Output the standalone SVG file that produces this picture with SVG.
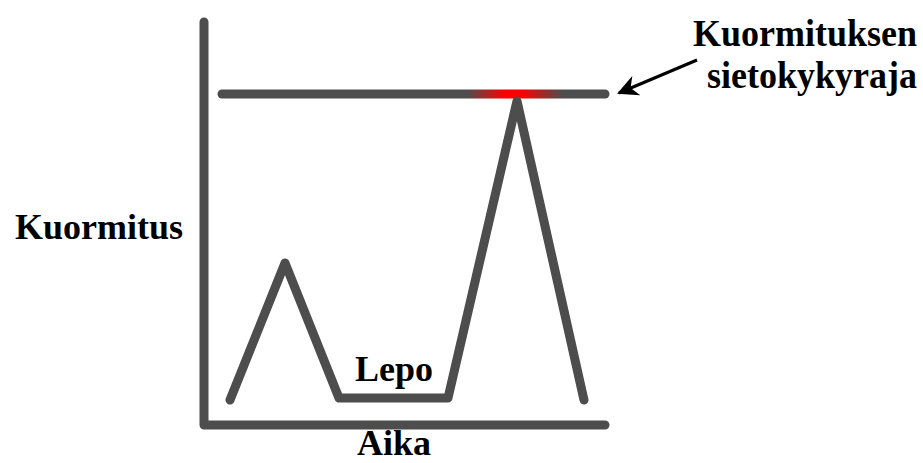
<svg xmlns="http://www.w3.org/2000/svg" width="923" height="463" viewBox="0 0 923 463">
<defs>
<style>
.ln{fill:none;stroke:#4d4d4d;stroke-width:9;stroke-linecap:round;stroke-linejoin:round}
.t{font-family:"Liberation Serif","Times New Roman",serif;font-weight:bold;font-size:36px;fill:#000}
</style>
<linearGradient id="glow" gradientUnits="userSpaceOnUse" x1="222" y1="0" x2="605" y2="0">
<stop offset="0" stop-color="#4d4d4d"/>
<stop offset="0.64" stop-color="#4d4d4d"/>
<stop offset="0.74" stop-color="#ff0000"/>
<stop offset="0.78" stop-color="#ff0000"/>
<stop offset="0.89" stop-color="#4d4d4d"/>
<stop offset="1" stop-color="#4d4d4d"/>
</linearGradient>
<marker id="ah" viewBox="0 0 10 10" refX="9" refY="5" markerWidth="7" markerHeight="7" orient="auto-start-reverse">
<path d="M0,0 L10,5 L0,10 L3,5 z" fill="#000"/>
</marker>
</defs>
<g id="axes">
<path class="ln" d="M204,22 L204,425 L605,425"/>
</g>
<g id="limit">
<line x1="222" y1="94" x2="605" y2="94" stroke="url(#glow)" stroke-width="9" stroke-linecap="round"/>
</g>
<g id="curve">
<path class="ln" d="M230,400 L285,263 L339,398 L448,398 L517,101 L584,400"/>
</g>
<g id="connectors">
<line x1="697" y1="60" x2="619" y2="93" stroke="#000" stroke-width="3" marker-end="url(#ah)"/>
</g>
<g id="labels">
<text class="t" transform="translate(0,46) scale(1,1.08)" x="917" y="0" text-anchor="end">Kuormituksen</text>
<text class="t" transform="translate(0,88) scale(1,1.08)" x="917" y="0" text-anchor="end">sietokykyraja</text>
<text class="t" x="15" y="239">Kuormitus</text>
<text class="t" x="355" y="381">Lepo</text>
<text class="t" x="357" y="455">Aika</text>
</g>
</svg>
